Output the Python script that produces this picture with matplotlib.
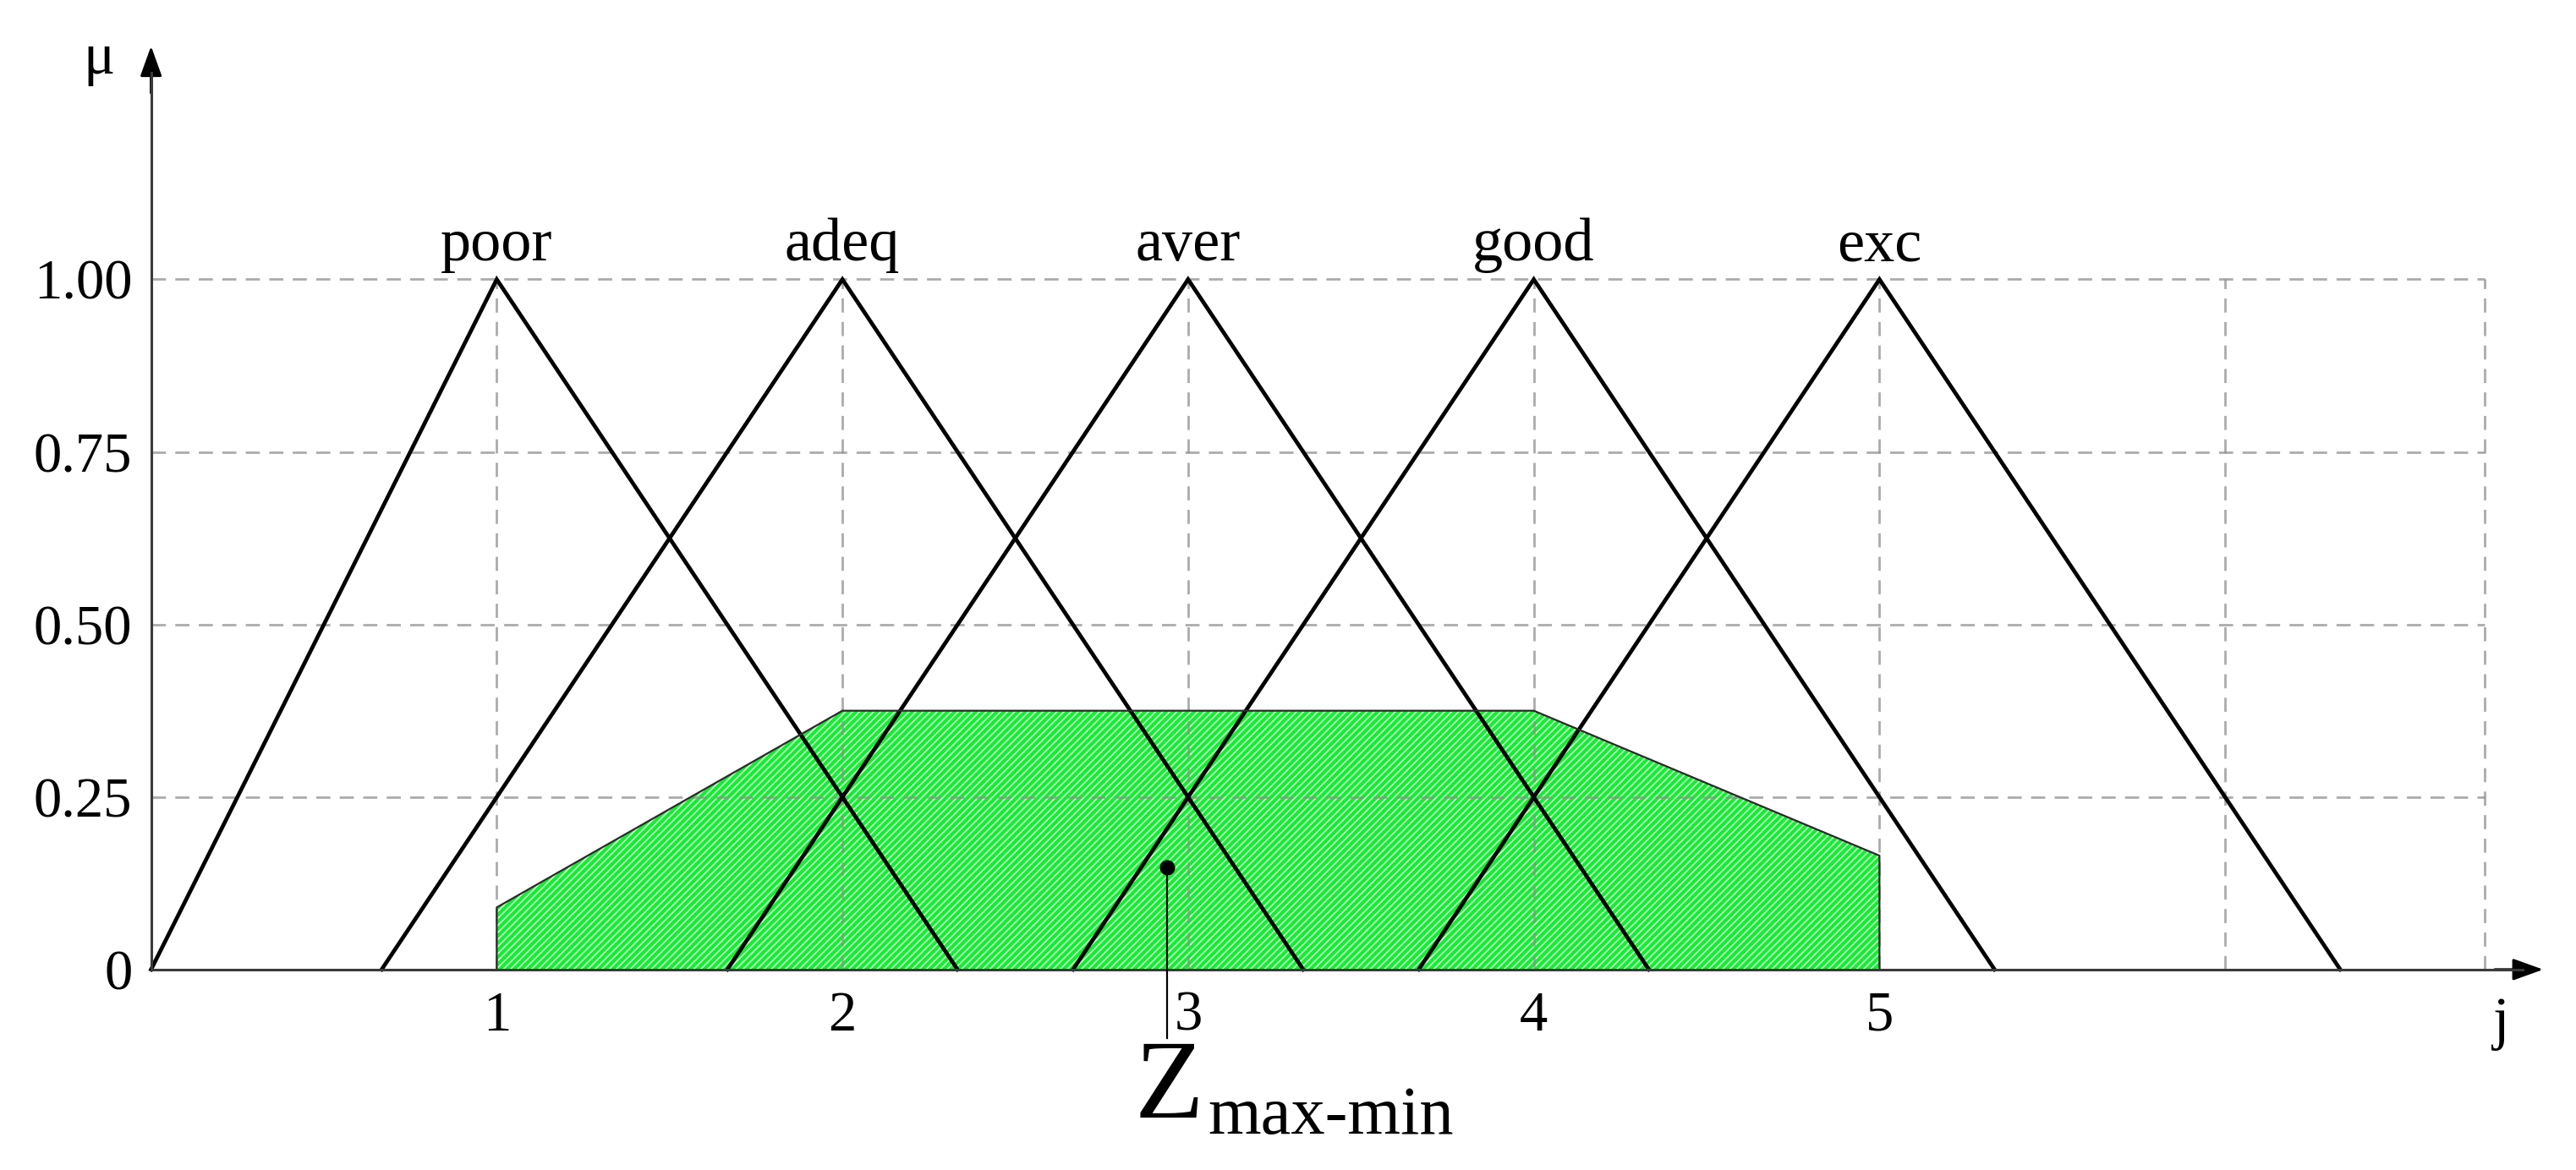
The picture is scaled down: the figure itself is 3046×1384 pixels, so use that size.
import matplotlib
matplotlib.use("Agg")
import matplotlib.pyplot as plt

plt.rcParams['font.family'] = ['Liberation Serif', 'DejaVu Serif']
plt.rcParams['hatch.linewidth'] = 0.6
plt.rcParams['hatch.color'] = '#d8ffd8'

# ---- data ----
categories = ['poor', 'adeq', 'aver', 'good', 'exc']
centers = [1, 2, 3, 4, 5]
left_feet = [0.0, 0.667, 1.667, 2.667, 3.667]
right_feet = [2.333, 3.333, 4.333, 5.333, 6.333]

result_x = [1, 1, 2, 4, 5, 5]
result_mu = [0, 0.09, 0.375, 0.375, 0.165, 0]

z_value = 2.94
z_mu = 0.148

y_ticks = [0, 0.25, 0.50, 0.75, 1.00]
y_tick_labels = ['0', '0.25', '0.50', '0.75', '1.00']
x_ticks = [1, 2, 3, 4, 5]
x_tick_labels = ['1', '2', '3', '4', '5']
grid_x = [1, 2, 3, 4, 5, 6, 6.75]
grid_y = [0.25, 0.50, 0.75, 1.00]

# ---- figure ----
fig = plt.figure(figsize=(15.23, 6.92), dpi=200)
ax = fig.add_axes([0, 0, 1, 1])
ax.set_xlim(-0.437, 7.015)
ax.set_ylim(-0.2905, 1.4048)
ax.patch.set_alpha(0)

# fill (aggregated output)
ax.fill(result_x, result_mu, facecolor='#10f030', edgecolor='#d8ffd8',
        hatch='////////', linewidth=0, zorder=1)
ax.plot(result_x, result_mu, color='#2a2a2a', lw=0.8, zorder=4)

# grid
gcol = '#8f8f8f'
ax.hlines(grid_y, 0, grid_x[-1], colors=gcol, linestyles=(0, (6, 4)), lw=1.0,
          alpha=0.75, zorder=2)
ax.vlines(grid_x, 0, 1.0, colors=gcol, linestyles=(0, (6, 4)), lw=1.0,
          alpha=0.75, zorder=2)

# membership triangles
for name, c, l, r in zip(categories, centers, left_feet, right_feet):
    ax.plot([l, c, r], [0, 1, 0], color='black', lw=1.7, zorder=3,
            solid_joinstyle='miter')
    ax.text(c, 1.027, name, ha='center', va='baseline', fontsize=26)

# axes with arrows
for side in ['top', 'right']:
    ax.spines[side].set_visible(False)
ax.spines['left'].set_position(('data', 0))
ax.spines['bottom'].set_position(('data', 0))
ax.spines['left'].set_bounds(0, 1.30)
ax.spines['bottom'].set_bounds(0, 6.86)
for side in ['left', 'bottom']:
    ax.spines[side].set_color('#3a3a3a')
    ax.spines[side].set_linewidth(1.1)
    ax.spines[side].set_zorder(5)

arrow_style = '-|>,head_length=1.0,head_width=0.36'
ax.annotate('', xy=(0, 1.338), xytext=(0, 1.27),
            arrowprops=dict(arrowstyle=arrow_style, color='black', lw=1.1,
                            mutation_scale=11, shrinkA=0, shrinkB=0),
            annotation_clip=False)
ax.annotate('', xy=(6.92, 0), xytext=(6.78, 0),
            arrowprops=dict(arrowstyle=arrow_style, color='black', lw=1.1,
                            mutation_scale=11, shrinkA=0, shrinkB=0),
            annotation_clip=False)

ax.set_yticks(y_ticks)
ax.set_yticklabels(y_tick_labels)
ax.set_xticks(x_ticks)
ax.set_xticklabels(x_tick_labels)
ax.tick_params(axis='y', length=0, pad=8, labelsize=24)
ax.tick_params(axis='x', length=0, pad=9, labelsize=24)

ax.text(-0.15, 1.298, 'μ', ha='center', va='baseline', fontsize=25)
ax.text(6.80, -0.10, 'j', ha='center', va='baseline', fontsize=25)

# defuzzified value marker
ax.plot([z_value, z_value], [z_mu, -0.10], color='black', lw=0.8, zorder=6)
ax.plot([z_value], [z_mu], 'o', color='black', ms=5.5, zorder=7)
ax.text(2.945, -0.214, 'Z', ha='center', va='baseline', fontsize=48)
ax.text(3.058, -0.238, 'max-min', ha='left', va='baseline', fontsize=29)

fig.savefig('out.png', dpi=200)
